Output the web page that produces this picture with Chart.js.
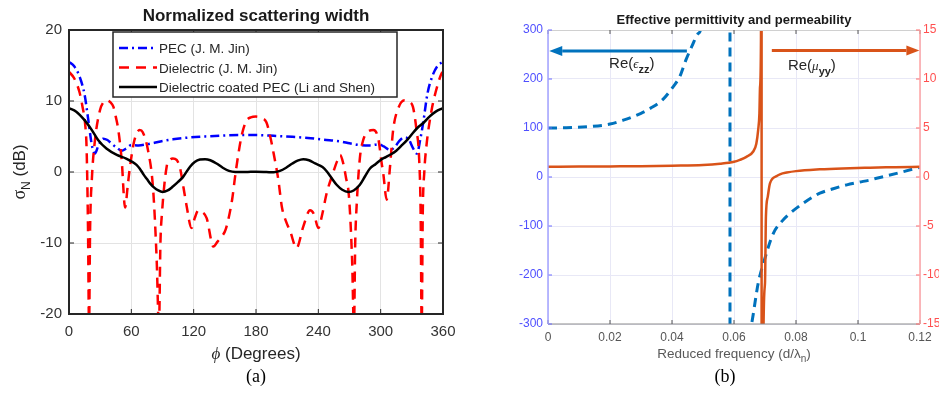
<!DOCTYPE html>
<html>
<head>
<meta charset="utf-8">
<script src="https://cdn.jsdelivr.net/npm/chart.js@4"></script>
<style>
  html, body { margin: 0; padding: 0; background: #fff; overflow: hidden; }
  #wrap { position: relative; width: 939px; height: 393px; overflow: hidden; }
  canvas { position: absolute; top: 0; }
  #left { left: 0; }
  #right { left: 470px; }
</style>
</head>
<body>
<div id="wrap">
  <canvas id="left" width="470" height="393"></canvas>
  <canvas id="right" width="469" height="393"></canvas>
</div>
<script>
// (a) normalized scattering width, phi in degrees, sigma in dB
const phiTicks = [0, 60, 120, 180, 240, 300, 360];
const sigmaTicks = [-20, -10, 0, 10, 20];

const pecPhi = [0, 5, 10, 15, 18.6, 22, 25, 28, 33, 37, 41, 46, 50.7, 55, 60, 67, 75, 88, 100, 115, 130, 150, 165, 180,
  197, 215, 230, 245, 261, 270, 280, 290, 298, 303, 309, 314, 318, 323, 327, 331, 335, 338, 341, 345, 350, 355, 360];
const pecDb = [15.5, 14.9, 13.5, 10.9, 7.3, 3.8, 2.6, 3.6, 4.7, 4.5, 4.0, 3.4, 3.0, 3.3, 3.8, 3.75, 3.9, 4.3, 4.6, 4.85, 5.0, 5.15, 5.2, 5.2,
  5.1, 4.95, 4.8, 4.55, 4.3, 4.05, 3.8, 3.75, 3.9, 3.6, 3.1, 3.6, 4.4, 4.9, 4.6, 3.4, 2.6, 4.5, 7.0, 11.0, 13.6, 15.0, 15.5];

const diePhi = [0, 5, 10, 13, 15.5, 17, 18.3, 19.3, 20.3, 22, 25, 29.8, 33, 36.3, 40, 42.7, 45, 47.5, 50.7, 54, 56.5, 58.7,
  63, 68, 71, 76, 81, 84.4, 86.6, 88, 89.5, 94, 97, 100, 103.6, 106.8, 110, 113, 118, 121, 124.5, 128, 132.5, 139, 143, 147,
  151, 157, 160, 163, 166, 170, 175, 180, 185, 190, 194, 197, 201.5, 205, 209, 213, 219, 225.5, 232, 236, 240, 244, 248,
  254, 258, 261, 264, 266.5, 269.5, 272.5, 274.3, 275.5, 277, 280, 283, 287, 293, 297.7, 301, 302.5, 305.8, 309, 312, 317, 323,
  327, 331, 334.5, 337, 338.5, 339.5, 340.5, 342, 344, 349, 353, 358.7, 360];
const dieDb = [14.1, 13.2, 11.3, 9.2, 6.8, 3, -8, -22, -8, -1, 4.5, 8.7, 9.8, 10.1, 9.8, 9.2, 7.8, 5.9, 1.7, -5, -2, 0.75,
  4.5, 5.9, 5.6, 3.1, -2.5, -12.4, -22, -10, -5.8, 0.75, 1.7, 1.9, 1.7, 0.6, -2.0, -4.6, -7.9, -6.5, -5.4, -5.6, -6.5, -10.5, -9.8, -9.1,
  -8.0, -3.9, -0.5, 2.5, 5.0, 7.0, 7.7, 7.8, 7.6, 7.0, 4.8, 2.6, -1.1, -5.0, -7.0, -8.4, -10.7, -7.7, -5.4, -6, -7.9, -5.8, -3.0,
  -0.2, 1.5, 2.4, 1.2, -0.7, -3.5, -12.4, -22, -10, -4.4, 2.0, 4.4, 5.6, 5.9, 4.7, 1.2, -0.2, -3.9, 0.75, 5.9, 9.0, 10.1,
  9.9, 9.2, 5.9, 2, -6, -22, -6, 0, 3.6, 8.7, 11.3, 13.9, 14.1];

const coatPhi = [0, 7, 15, 22, 28, 36, 46, 55, 60, 65, 68, 72, 75, 78, 82, 86, 90, 95, 100, 105, 110, 116.5, 121, 126, 131,
  136, 142, 148, 154, 160, 170, 180, 190, 197, 203, 209, 215, 220, 225.5, 231, 237, 244, 248, 253, 257.6, 263, 268.8, 274,
  280, 285, 289.7, 295, 300, 305, 310, 315, 320, 326, 331, 336, 341, 347, 353, 360];
const coatDb = [9.0, 8.5, 7.3, 5.9, 4.5, 3.3, 2.4, 1.9, 1.5, 1.0, 0.5, -0.4, -1.0, -1.6, -2.2, -2.6, -2.8, -2.6, -2.05, -1.4, -0.65, 0.75, 1.4, 1.75, 1.8,
  1.65, 1.2, 0.6, 0.15, 0.0, 0.0, 0.05, 0.0, -0.05, 0.15, 0.6, 1.2, 1.6, 1.8, 1.65, 1.2, 0.7, 0.1, -0.9, -1.8, -2.5, -2.8, -2.6,
  -1.8, -0.6, 0.5, 1.1, 1.7, 2.1, 2.5, 3.0, 3.7, 4.6, 5.5, 6.3, 6.9, 7.8, 8.5, 9.0];

// (b) effective permittivity (left axis) and permeability (right axis)
const freqTicks = [0, 0.02, 0.04, 0.06, 0.08, 0.1, 0.12];
const epsTicks = [-300, -200, -100, 0, 100, 200, 300];
const muTicks = [-15, -10, -5, 0, 5, 10, 15];

const epsF = [0, 0.005, 0.0135, 0.02, 0.0243, 0.03, 0.033, 0.037, 0.04, 0.0425, 0.0445, 0.0465, 0.0485, 0.0495, 0.0587,
  0.05871, 0.0655, 0.0657, 0.0678, 0.0695, 0.0727, 0.0755, 0.0781, 0.082, 0.0856, 0.0877, 0.092, 0.0964, 0.1, 0.104,
  0.106, 0.11, 0.115, 0.12];
const epsVal = [100, 100.5, 103, 108, 116, 130, 140, 158, 181, 205, 239, 268, 293, 310, 3000,
  -3000, -310, -299, -217, -176, -115, -90, -74, -55, -40, -33, -24, -16, -11, -6,
  -2.7, 3.5, 11.5, 20];

const muF = [0, 0.01, 0.02, 0.03, 0.04, 0.05, 0.0555, 0.06, 0.0619, 0.064, 0.0662, 0.0672, 0.0678, 0.0682, 0.0684, 0.0687,
  0.0689, 0.06891, 0.0695, 0.07, 0.0703, 0.0709, 0.0716, 0.0738, 0.075, 0.077, 0.08, 0.0877, 0.095, 0.1039, 0.112, 0.12];
const muVal = [1.05, 1.06, 1.08, 1.1, 1.15, 1.22, 1.35, 1.55, 1.75, 2.05, 2.6, 3.4, 4.8, 6.5, 9.2, 14,
  100, -100, -16, -10.8, -4.0, -2.0, -0.65, 0.1, 0.3, 0.45, 0.6, 0.78, 0.88, 0.95, 1.0, 1.05];

const SANS = '"Liberation Sans", Arial, Helvetica, sans-serif';
const SERIF = '"Liberation Serif", "Times New Roman", serif';

function pts(xs, ys) {
  return xs.map((x, i) => ({ x, y: ys[i] }));
}

function setTicks(list) {
  return s => { s.ticks = list.map(v => ({ value: v })); };
}

// draws a row of text pieces [text, font, dy]; align 'center' or 'left'
function richText(ctx, parts, x, y, align) {
  let w = 0;
  parts.forEach(p => { ctx.font = p[1]; w += ctx.measureText(p[0]).width; });
  let px = align === 'left' ? x : x - w / 2;
  ctx.textAlign = 'left';
  ctx.textBaseline = 'alphabetic';
  parts.forEach(p => {
    ctx.font = p[1];
    ctx.fillText(p[0], px, y + (p[2] || 0));
    px += ctx.measureText(p[0]).width;
  });
}

function seg(ctx, x1, y1, x2, y2) {
  ctx.beginPath();
  ctx.moveTo(x1, y1);
  ctx.lineTo(x2, y2);
  ctx.stroke();
}

function arrow(ctx, x1, x2, y, color) {
  const dir = Math.sign(x2 - x1), hl = 13, hw = 5;
  ctx.strokeStyle = color;
  ctx.fillStyle = color;
  ctx.lineWidth = 3;
  seg(ctx, x1, y, x2 - dir * hl, y);
  ctx.beginPath();
  ctx.moveTo(x2, y);
  ctx.lineTo(x2 - dir * hl, y - hw);
  ctx.lineTo(x2 - dir * hl, y + hw);
  ctx.closePath();
  ctx.fill();
}

const frameA = {
  id: 'frameA',
  afterDraw(chart) {
    const { ctx, chartArea: a, scales: { x, y } } = chart;
    const cx = (a.left + a.right) / 2;
    ctx.save();
    ctx.strokeStyle = '#262626';
    ctx.lineWidth = 1;
    phiTicks.forEach(v => {
      const p = x.getPixelForValue(v);
      seg(ctx, p, a.bottom, p, a.bottom - 5);
      seg(ctx, p, a.top, p, a.top + 5);
    });
    sigmaTicks.forEach(v => {
      const p = y.getPixelForValue(v);
      seg(ctx, a.left, p, a.left + 5, p);
      seg(ctx, a.right, p, a.right - 5, p);
    });
    ctx.lineWidth = 2;
    ctx.strokeRect(a.left, a.top, a.right - a.left, a.bottom - a.top);

    // legend box
    const lx = 113, ly = 32, lw = 284, lh = 65;
    ctx.fillStyle = '#fff';
    ctx.fillRect(lx, ly, lw, lh);
    ctx.lineWidth = 1.5;
    ctx.strokeStyle = '#262626';
    ctx.strokeRect(lx, ly, lw, lh);
    chart.data.datasets.forEach((ds, i) => {
      const ry = ly + 16 + i * 19.5;
      ctx.save();
      ctx.strokeStyle = ds.borderColor;
      ctx.lineWidth = ds.borderWidth;
      ctx.setLineDash(ds.borderDash || []);
      seg(ctx, lx + 6, ry, lx + 44, ry);
      ctx.restore();
      ctx.fillStyle = '#262626';
      richText(ctx, [[ds.label, '13.5px ' + SANS]], lx + 46, ry + 5, 'left');
    });

    ctx.fillStyle = '#1a1a1a';
    richText(ctx, [['Normalized scattering width', 'bold 17px ' + SANS]], cx, 21, 'center');
    ctx.fillStyle = '#262626';
    richText(ctx, [['\u03d5', 'italic 17px ' + SERIF], [' (Degrees)', '17px ' + SANS]], cx, 359, 'center');
    ctx.fillStyle = '#000';
    richText(ctx, [['(a)', '18px ' + SERIF]], cx, 382, 'center');
    ctx.save();
    ctx.translate(25, (a.top + a.bottom) / 2);
    ctx.rotate(-Math.PI / 2);
    ctx.fillStyle = '#262626';
    richText(ctx, [['\u03c3', '18px ' + SERIF], ['N', '12px ' + SANS, 5], [' (dB)', '17px ' + SANS]], 0, 0, 'center');
    ctx.restore();
    ctx.restore();
  }
};

const frameB = {
  id: 'frameB',
  afterDraw(chart) {
    const { ctx, chartArea: a, scales: { x, y, y1 } } = chart;
    const cx = (a.left + a.right) / 2;
    ctx.save();
    ctx.lineWidth = 1;
    ctx.strokeStyle = '#d0d0d0';
    seg(ctx, a.left, a.top + 0.5, a.right, a.top + 0.5);
    ctx.strokeStyle = '#8c8c8c';
    seg(ctx, a.left, a.bottom, a.right, a.bottom);
    ctx.strokeStyle = '#555';
    freqTicks.forEach(v => {
      const p = x.getPixelForValue(v);
      seg(ctx, p, a.bottom, p, a.bottom - 4);
      seg(ctx, p, a.top, p, a.top + 4);
    });
    ctx.strokeStyle = '#6b6bff';
    epsTicks.forEach(v => { const p = y.getPixelForValue(v); seg(ctx, a.left, p, a.left + 4, p); });
    ctx.strokeStyle = '#ff6b6b';
    muTicks.forEach(v => { const p = y1.getPixelForValue(v); seg(ctx, a.right, p, a.right - 4, p); });
    ctx.lineWidth = 1.5;
    ctx.strokeStyle = '#a3a3ff';
    seg(ctx, a.left, a.top, a.left, a.bottom);
    ctx.strokeStyle = '#ffa3a3';
    seg(ctx, a.right, a.top, a.right, a.bottom);

    // arrows and curve names
    arrow(ctx, x.getPixelForValue(0.0448), x.getPixelForValue(0.0004), y.getPixelForValue(257), '#0072bd');
    arrow(ctx, x.getPixelForValue(0.0722), x.getPixelForValue(0.1198), y1.getPixelForValue(12.9), '#d95319');
    ctx.fillStyle = '#262626';
    richText(ctx, [['Re(', '15px ' + SANS], ['\u03f5', 'italic 13px ' + SERIF], ['zz', 'bold 11px ' + SANS, 5], [')', '15px ' + SANS]],
      x.getPixelForValue(0.0197), 68, 'left');
    richText(ctx, [['Re(', '15px ' + SANS], ['\u03bc', 'italic 13px ' + SERIF], ['yy', 'bold 11px ' + SANS, 5], [')', '15px ' + SANS]],
      x.getPixelForValue(0.0774), 70, 'left');

    ctx.fillStyle = '#1a1a1a';
    richText(ctx, [['Effective permittivity and permeability', 'bold 13px ' + SANS]], cx, 24, 'center');
    ctx.fillStyle = '#595959';
    richText(ctx, [['Reduced frequency (d/\u03bb', '13.5px ' + SANS], ['n', '10px ' + SANS, 4], [')', '13.5px ' + SANS]], cx, 358, 'center');
    ctx.fillStyle = '#000';
    richText(ctx, [['(b)', '18px ' + SERIF]], cx - 9, 382, 'center');
    ctx.restore();
  }
};

new Chart(document.getElementById('left'), {
  type: 'line',
  data: {
    datasets: [
      { label: 'PEC (J. M. Jin)', data: pts(pecPhi, pecDb), borderColor: '#0000ff', borderWidth: 2.5, borderDash: [9, 4, 2, 4], order: 3 },
      { label: 'Dielectric (J. M. Jin)', data: pts(diePhi, dieDb), borderColor: '#ff0000', borderWidth: 2.5, borderDash: [10, 7], order: 2 },
      { label: 'Dielectric coated PEC (Li and Shen)', data: pts(coatPhi, coatDb), borderColor: '#000000', borderWidth: 2.5, order: 1 }
    ]
  },
  options: {
    responsive: false,
    animation: false,
    layout: { padding: { top: 30, right: 27, left: 0, bottom: 0 } },
    elements: { point: { radius: 0 }, line: { cubicInterpolationMode: 'monotone', fill: false } },
    plugins: { legend: { display: false }, tooltip: { enabled: false } },
    scales: {
      x: {
        type: 'linear', min: 0, max: 360,
        afterBuildTicks: setTicks(phiTicks),
        afterFit: s => { s.height = 79; },
        ticks: { color: '#333', font: { family: SANS, size: 15 }, padding: 9, maxRotation: 0 },
        grid: { color: '#e3e3e3', drawTicks: false },
        border: { display: false }
      },
      y: {
        min: -20, max: 20,
        afterBuildTicks: setTicks(sigmaTicks),
        afterFit: s => { s.width = 69; },
        ticks: { color: '#333', font: { family: SANS, size: 15 }, padding: 7 },
        grid: { color: '#e3e3e3', drawTicks: false },
        border: { display: false }
      }
    }
  },
  plugins: [frameA]
});

new Chart(document.getElementById('right'), {
  type: 'line',
  data: {
    datasets: [
      { label: 'Re(eps_zz)', data: pts(epsF, epsVal), yAxisID: 'y', borderColor: '#0072bd', borderWidth: 3, borderDash: [9, 6], order: 2 },
      { label: 'Re(mu_yy)', data: pts(muF, muVal), yAxisID: 'y1', borderColor: '#d95319', borderWidth: 2.5, order: 1 }
    ]
  },
  options: {
    responsive: false,
    animation: false,
    layout: { padding: { top: 30, right: 0, left: 0, bottom: 0 } },
    elements: { point: { radius: 0 }, line: { cubicInterpolationMode: 'monotone', fill: false } },
    plugins: { legend: { display: false }, tooltip: { enabled: false } },
    scales: {
      x: {
        type: 'linear', min: 0, max: 0.12,
        afterBuildTicks: setTicks(freqTicks),
        afterFit: s => { s.height = 69; },
        ticks: { color: '#555', font: { family: SANS, size: 12 }, padding: 6, maxRotation: 0,
          callback: v => String(Number(v.toFixed(2))) },
        grid: { color: '#e8e8f6', drawTicks: false },
        border: { display: false }
      },
      y: {
        position: 'left', min: -300, max: 300,
        afterBuildTicks: setTicks(epsTicks),
        afterFit: s => { s.width = 78; },
        ticks: { color: '#4f4fff', font: { family: SANS, size: 12 }, padding: 5 },
        grid: { color: '#e8e8f6', drawTicks: false },
        border: { display: false }
      },
      y1: {
        position: 'right', min: -15, max: 15,
        afterBuildTicks: setTicks(muTicks),
        afterFit: s => { s.width = 19; },
        ticks: { color: '#ff4f4f', font: { family: SANS, size: 12 }, padding: 3 },
        grid: { display: false, drawTicks: false },
        border: { display: false }
      }
    }
  },
  plugins: [frameB]
});
</script>
</body>
</html>
